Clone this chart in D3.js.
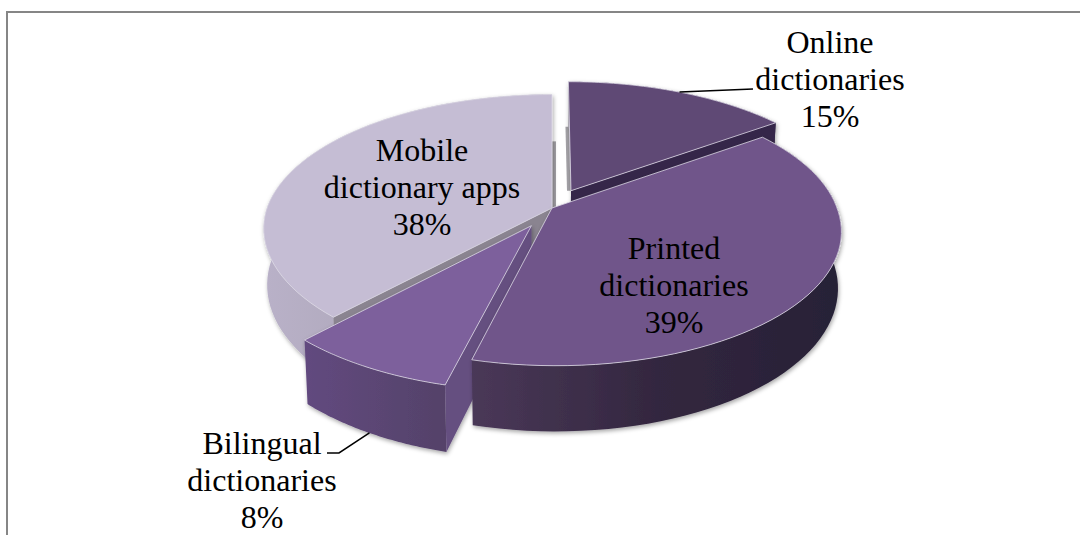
<!DOCTYPE html>
<html><head><meta charset="utf-8">
<script src="https://cdn.jsdelivr.net/npm/d3@7"></script>
<style>html,body{margin:0;padding:0;background:#fff;overflow:hidden}svg{display:block}
text{font-family:"Liberation Serif","Times New Roman",serif;font-size:32px;fill:#000;text-anchor:middle}</style>
</head><body><div id="c"></div>
<script>
const categories=["Online dictionaries","Printed dictionaries","Bilingual dictionaries","Mobile dictionary apps"];
const labelLines=[["Online","dictionaries"],["Printed","dictionaries"],["Bilingual","dictionaries"],["Mobile","dictionary apps"]];
const values=[15,39,8,38];
const explode=[0.15,0,0.15,0];
const topColors=["#5f4875","#70548a","#7d609c","#c5bdd4"];
const cutColors=["#35264a",null,"#654f80","#8a8490"];
const sideStops=[["#9a96a0","#2c2140"],["#4a3858","#33273f","#272036"],["#62497f","#544269"],["#b9b1c8","#a09ba8"]];
const labelPos=[[830,53],[674,259],[262,454],[422,161]];
const W=1080,H=535,cx=552,cy=208,Rx=285,Ry=132,K=0.163,D=55,S=0.988,Shear=0.012;

const svg=d3.select("#c").append("svg").attr("width",W).attr("height",H);
const defs=svg.append("defs");
const f=defs.append("filter").attr("id","sh").attr("x","-10%").attr("y","-10%").attr("width","120%").attr("height","125%");
f.append("feDropShadow").attr("dx",1).attr("dy",2).attr("stdDeviation",2).attr("flood-color","#000").attr("flood-opacity",0.35);

svg.append("path").attr("d",`M7,${H}V12H${W}`).attr("fill","none").attr("stroke","#868686").attr("stroke-width",2);

const arcs=d3.pie().sort(null).startAngle(0).endAngle(2*Math.PI)(values);
const xS=d3.scaleLinear().domain([0,1]).range([cx,cx+Rx]);
const yS=d3.scaleLinear().domain([0,1]).range([cy,cy-Ry]);
function proj(i,r,a,low){
  const m=(arcs[i].startAngle+arcs[i].endAngle)/2,e=explode[i];
  const u=r*Math.sin(a)+e*Math.sin(m),v=r*Math.cos(a)+e*Math.cos(m),w=1+K*v;
  let X=xS(u/w+Shear*Math.max(-v/w,0)),Y=yS(v/w);
  if(low){X=cx+(X-cx)*S;Y+=D/w;}
  return [X,Y];
}
const line=d3.line();
function sampled(i,low){
  const a0=arcs[i].startAngle,a1=arcs[i].endAngle,n=60;
  return d3.range(n+1).map(k=>proj(i,1,a0+(a1-a0)*k/n,low));
}
// thin cut faces seen edge-on beside the vertical slice edges
function sliver(i,a,r0,dx){
  const p0=proj(i,r0,a,false),p1=proj(i,0,a,false);
  svg.append("path").attr("d",line([p0,[p0[0]+dx,p0[1]],[p1[0]+dx,p1[1]],p1])+"Z").attr("fill","#a3a1a6");
}
sliver(0,0,0.55,-4);
sliver(3,2*Math.PI,0.55,4);
[0,3,2,1].forEach(i=>{
  const g=svg.append("g").attr("filter","url(#sh)");
  const top=sampled(i,false),low=sampled(i,true);
  const xs=top.map(p=>p[0]);
  const id="side"+i;
  const lg=defs.append("linearGradient").attr("id",id).attr("gradientUnits","userSpaceOnUse")
    .attr("x1",d3.min(xs)).attr("x2",d3.max(xs)).attr("y1",0).attr("y2",0);
  sideStops[i].forEach((c,k)=>lg.append("stop").attr("offset",k/(sideStops[i].length-1)).attr("stop-color",c));
  g.append("path").attr("d",line(top.concat(low.slice().reverse()))+"Z").attr("fill",`url(#${id})`);
  if(cutColors[i]){
    const a=i===0?arcs[i].endAngle:arcs[i].startAngle;
    const pts=[proj(i,0,a,false),proj(i,1,a,false),proj(i,1,a,true),proj(i,0,a,true)];
    g.append("path").attr("d",line(pts)+"Z").attr("fill",cutColors[i]);
  }
  const outline=[proj(i,0,0,false)].concat(top);
  g.append("path").attr("d",line(outline)+"Z").attr("fill",topColors[i]).attr("stroke","#dcd8e4").attr("stroke-width",0.8);
});

const bottomLead=proj(2,1,(arcs[2].startAngle+arcs[2].endAngle)/2,true);
const topLead=proj(0,1,(arcs[0].startAngle+arcs[0].endAngle)/2,false);
svg.append("path").attr("fill","none").attr("stroke","#000").attr("stroke-width",1.5)
  .attr("d",line([topLead,[753,89]]));
svg.append("path").attr("fill","none").attr("stroke","#000").attr("stroke-width",1.5)
  .attr("d",line([bottomLead,[339,453],[327,453]]));

const lh=37;
categories.forEach((c,i)=>{
  const t=svg.append("text").attr("aria-label",c);
  const lines=labelLines[i].concat([values[i]+"%"]);
  lines.forEach((s,k)=>t.append("tspan").attr("x",labelPos[i][0]).attr("y",labelPos[i][1]+k*lh).text(s));
});
</script></body></html>
